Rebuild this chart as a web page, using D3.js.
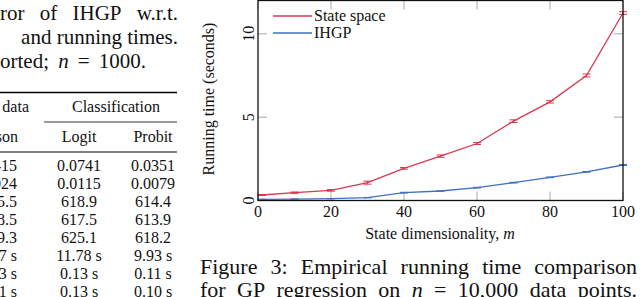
<!DOCTYPE html>
<html>
<head>
<meta charset="utf-8">
<script src="https://cdn.jsdelivr.net/npm/d3@7/dist/d3.min.js"></script>
<style>
html, body { margin: 0; padding: 0; background: #fff; }
svg { display: block; font-family: "Liberation Serif", "Times New Roman", serif; }
</style>
</head>
<body>
<svg width="640" height="297"></svg>
<script>
// chart data
const dims = [1, 10, 20, 30, 40, 50, 60, 70, 80, 90, 100]
const stateSpace = [0.33, 0.47, 0.61, 1.07, 1.93, 2.66, 3.42, 4.76, 5.92, 7.50, 11.25]
const stateSpaceErr = [0.03, 0.04, 0.05, 0.09, 0.05, 0.07, 0.06, 0.08, 0.07, 0.09, 0.08]
const ihgp = [0.07, 0.08, 0.11, 0.17, 0.47, 0.57, 0.77, 1.07, 1.39, 1.72, 2.13]
const ihgpErr = [0.01, 0.01, 0.01, 0.01, 0.02, 0.01, 0.02, 0.02, 0.02, 0.02, 0.03]
const xTicks = [0, 20, 40, 60, 80, 100]
const yTicks = [0, 5, 10]
const seriesNames = ['State space', 'IHGP']

// table fragment on the left
const poissonCol = ['0.0415', '0.0024', '425.5', '428.5', '429.3', '13.27 s', '0.23 s', '0.21 s']
const logitCol = ['0.0741', '0.0115', '618.9', '617.5', '625.1', '11.78 s', '0.13 s', '0.13 s']
const probitCol = ['0.0351', '0.0079', '614.4', '613.9', '618.2', '9.93 s', '0.11 s', '0.10 s']

const svg = d3.select('svg')
const red = '#da3850'
const blue = '#3f70c4'
const tickGray = '#a8a8a8'

// 两端对齐的一行文字
function justify(words, x0, x1, y, size) {
    const t = svg.append('text').attr('y', y).attr('font-size', size).attr('fill', '#111')
    const spans = words.map(w => {
        const it = w.startsWith('*')
        return t.append('tspan').attr('font-style', it ? 'italic' : null).text(it ? w.slice(1) : w)
    })
    const widths = spans.map(s => s.node().getComputedTextLength())
    const gap = (x1 - x0 - d3.sum(widths)) / (words.length - 1)
    let x = x0
    spans.forEach((s, i) => { s.attr('x', x); x += widths[i] + gap })
}

// ---- left column text ----
justify(['ror', 'of', 'IHGP', 'w.r.t.'], 0, 178, 20, 21)
svg.append('text').attr('x', 178).attr('y', 44).attr('text-anchor', 'end').attr('font-size', 21)
    .attr('fill', '#111').text('and running times.')
justify(['orted;', '*n', '=', '1000.'], 0, 146, 68, 21)

const tbl = svg.append('g').attr('font-size', 16).attr('fill', '#111')
tbl.append('line').attr('x1', 0).attr('x2', 177).attr('y1', 92.5).attr('y2', 92.5).attr('stroke', '#000').attr('stroke-width', 1.6)
tbl.append('line').attr('x1', 44).attr('x2', 177).attr('y1', 122).attr('y2', 122).attr('stroke', '#000').attr('stroke-width', 0.8)
tbl.append('line').attr('x1', 0).attr('x2', 177).attr('y1', 152).attr('y2', 152).attr('stroke', '#000').attr('stroke-width', 1)
tbl.append('text').attr('x', 29).attr('y', 112).attr('text-anchor', 'end').text('Count data')
tbl.append('text').attr('x', 116).attr('y', 112).attr('text-anchor', 'middle').text('Classification')
tbl.append('text').attr('x', 18).attr('y', 142).attr('text-anchor', 'end').text('Poisson')
tbl.append('text').attr('x', 79).attr('y', 142).attr('text-anchor', 'middle').text('Logit')
tbl.append('text').attr('x', 153).attr('y', 142).attr('text-anchor', 'middle').text('Probit')
const rowY = i => 171 + i * 18
tbl.selectAll('.pc').data(poissonCol).enter().append('text')
    .attr('x', 17).attr('y', (d, i) => rowY(i)).attr('text-anchor', 'end').text(d => d)
tbl.selectAll('.lc').data(logitCol).enter().append('text')
    .attr('x', 79).attr('y', (d, i) => rowY(i)).attr('text-anchor', 'middle').text(d => d)
tbl.selectAll('.rc').data(probitCol).enter().append('text')
    .attr('x', 153).attr('y', (d, i) => rowY(i)).attr('text-anchor', 'middle').text(d => d)

// ---- chart ----
const x = d3.scaleLinear().domain([0, 100]).range([258, 623])
const y = d3.scaleLinear().domain([0, 12]).range([200.5, 0.5])

const g = svg.append('g')

// inward ticks on all four sides
const tl = 9
xTicks.forEach(t => {
    g.append('line').attr('x1', x(t)).attr('x2', x(t)).attr('y1', y(0)).attr('y2', y(0) - tl).attr('stroke', tickGray).attr('stroke-width', 1)
    g.append('line').attr('x1', x(t)).attr('x2', x(t)).attr('y1', y(12)).attr('y2', y(12) + tl).attr('stroke', tickGray).attr('stroke-width', 1)
})
yTicks.forEach(t => {
    g.append('line').attr('x1', x(0)).attr('x2', x(0) + tl).attr('y1', y(t)).attr('y2', y(t)).attr('stroke', tickGray).attr('stroke-width', 1)
    g.append('line').attr('x1', x(100)).attr('x2', x(100) - tl).attr('y1', y(t)).attr('y2', y(t)).attr('stroke', tickGray).attr('stroke-width', 1)
})

const line = d3.line().x(d => x(d[0])).y(d => y(d[1]))

function drawSeries(vals, errs, color) {
    const pts = dims.map((m, i) => [m, vals[i], errs[i]])
    g.append('path').attr('d', line(pts)).attr('fill', 'none').attr('stroke', color).attr('stroke-width', 1.3)
    const eb = g.append('g').attr('stroke', color).attr('stroke-width', 1)
    pts.forEach(p => {
        eb.append('line').attr('x1', x(p[0])).attr('x2', x(p[0])).attr('y1', y(p[1] - p[2])).attr('y2', y(p[1] + p[2]))
        eb.append('line').attr('x1', x(p[0]) - 4).attr('x2', x(p[0]) + 4).attr('y1', y(p[1] - p[2])).attr('y2', y(p[1] - p[2]))
        eb.append('line').attr('x1', x(p[0]) - 4).attr('x2', x(p[0]) + 4).attr('y1', y(p[1] + p[2])).attr('y2', y(p[1] + p[2]))
    })
}
drawSeries(ihgp, ihgpErr, blue)
drawSeries(stateSpace, stateSpaceErr, red)

// frame
g.append('rect').attr('x', x(0)).attr('y', y(12)).attr('width', x(100) - x(0)).attr('height', y(0) - y(12))
    .attr('fill', 'none').attr('stroke', '#111').attr('stroke-width', 1.3)

// tick labels
g.selectAll('.xl').data(xTicks).enter().append('text')
    .attr('x', d => x(d)).attr('y', 216.5).attr('text-anchor', 'middle').attr('font-size', 16).attr('fill', '#111')
    .text(d => d)
g.selectAll('.yl').data(yTicks).enter().append('text')
    .attr('transform', d => `translate(${x(0) - 4},${y(d)}) rotate(-90)`)
    .attr('text-anchor', 'middle').attr('font-size', 16).attr('fill', '#111')
    .text(d => d)

// axis titles
const xt = g.append('text').attr('x', 440).attr('y', 239).attr('text-anchor', 'middle').attr('font-size', 16).attr('fill', '#111')
xt.append('tspan').text('State dimensionality, ')
xt.append('tspan').attr('font-style', 'italic').text('m')
g.append('text').attr('transform', 'translate(214,99) rotate(-90)').attr('text-anchor', 'middle')
    .attr('font-size', 16).attr('fill', '#111').text('Running time (seconds)')

// legend
const lg = g.append('g')
;[red, blue].forEach((c, i) => {
    lg.append('line').attr('x1', 273).attr('x2', 312).attr('y1', 16 + i * 17).attr('y2', 16 + i * 17).attr('stroke', c).attr('stroke-width', 1.3)
    lg.append('text').attr('x', 314).attr('y', 21 + i * 17).attr('font-size', 16).attr('fill', '#111').text(seriesNames[i])
})

// ---- figure caption ----
justify(['Figure', '3:', 'Empirical', 'running', 'time', 'comparison'], 200, 637, 274, 22)
justify(['for', 'GP', 'regression', 'on', '*n', '=', '10,000', 'data', 'points.'], 200, 637, 297, 22)
</script>
</body>
</html>
